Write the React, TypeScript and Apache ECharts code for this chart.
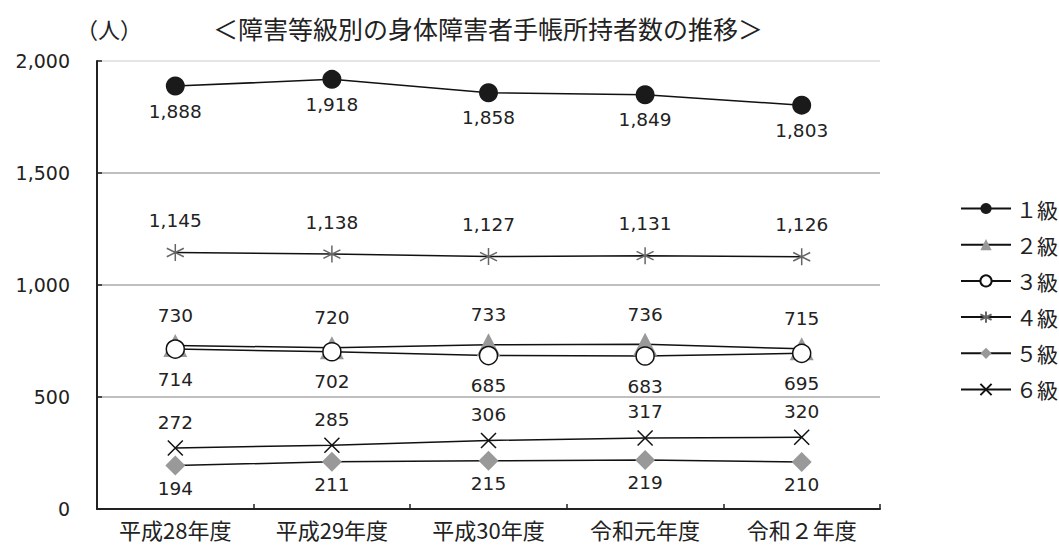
import React, { useEffect, useRef } from "react";
import * as echarts from "echarts";

const categories = ["平成28年度", "平成29年度", "平成30年度", "令和元年度", "令和２年度"];
const seriesNames = ["１級", "２級", "３級", "４級", "５級", "６級"];
const grade1 = [1888, 1918, 1858, 1849, 1803];
const grade2 = [730, 720, 733, 736, 715];
const grade3 = [714, 702, 685, 683, 695];
const grade4 = [1145, 1138, 1127, 1131, 1126];
const grade5 = [194, 211, 215, 219, 210];
const grade6 = [272, 285, 306, 317, 320];
const yTicks = [0, 500, 1000, 1500, 2000];

const NUM_FONT = "'DejaVu Sans', sans-serif";
const JP_FONT = "'Noto Sans CJK JP', sans-serif";

const fmt = (v: number) => v.toLocaleString("en-US");

export default function App() {
  const ref = useRef<HTMLDivElement>(null);
  useEffect(() => {
    if (!ref.current) return;
    const chart = echarts.init(ref.current, null, { renderer: "svg" });
    const label = (dy: number) => ({
      show: true,
      position: "inside",
      offset: [0, dy],
      fontFamily: NUM_FONT,
      fontSize: 18.5,
      color: "#222",
      formatter: (p: any) => fmt(p.value),
    });
    const mk = (
      name: string,
      data: number[],
      symbol: string,
      size: number | number[],
      itemStyle: any,
      dy: number
    ) => ({
      name,
      type: "line",
      data,
      symbol,
      symbolSize: size,
      showAllSymbol: true,
      lineStyle: { color: "#111", width: 1.5 },
      itemStyle,
      label: label(dy),
      z: 3,
    });
    const asterisk = "path://M10,0L10,20M1.34,5L18.66,15M1.34,15L18.66,5";
    const cross = "path://M0,0L20,20M20,0L0,20";
    chart.setOption({
      animation: false,
      backgroundColor: "#fff",
      textStyle: { fontFamily: JP_FONT },
      grid: { left: 97, right: 179, top: 61, bottom: 39, containLabel: false },
      graphic: [
        {
          type: "text",
          left: 76,
          top: 17,
          style: { text: "（人）", font: `22px ${JP_FONT}`, fill: "#222" },
        },
        {
          type: "text",
          left: 213,
          top: 15,
          style: {
            text: "＜障害等級別の身体障害者手帳所持者数の推移＞",
            font: `25px ${JP_FONT}`,
            fill: "#222",
          },
        },
      ],
      legend: {
        orient: "vertical",
        left: 955,
        top: 193,
        itemWidth: 50,
        itemHeight: 14,
        itemGap: 15.2,
        textStyle: { fontFamily: JP_FONT, fontSize: 21, color: "#222", lineHeight: 20 },
        data: seriesNames,
      },
      xAxis: {
        type: "category",
        data: categories,
        boundaryGap: true,
        axisLine: { lineStyle: { color: "#222", width: 2 } },
        axisTick: { show: true, inside: true, length: 5, lineStyle: { color: "#222", width: 1.5 } },
        axisLabel: { fontFamily: JP_FONT, fontSize: 22, color: "#222", margin: 9 },
      },
      yAxis: {
        type: "value",
        min: yTicks[0],
        max: yTicks[yTicks.length - 1],
        interval: 500,
        axisLine: { show: true, lineStyle: { color: "#222", width: 2 } },
        axisTick: { show: true, inside: true, length: 5, lineStyle: { color: "#222", width: 1.5 } },
        axisLabel: {
          fontFamily: NUM_FONT,
          fontSize: 19,
          color: "#222",
          margin: 27,
          formatter: (v: number) => fmt(v),
        },
        splitLine: {
          show: true,
          lineStyle: { color: ["#aaa", "#aaa", "#aaa", "#aaa", "#ddd"], width: 1.5 },
        },
      },
      series: [
        mk(seriesNames[0], grade1, "circle", 19, { color: "#1a1a1a" }, 25),
        mk(seriesNames[1], grade2, "triangle", [24, 23], { color: "#999" }, -30),
        mk(seriesNames[2], grade3, "circle", 18, { color: "#fff", borderColor: "#111", borderWidth: 1.5 }, 30),
        mk(seriesNames[3], grade4, asterisk, 17, { color: "#666", borderColor: "#666", borderWidth: 1.5 }, -32),
        mk(seriesNames[4], grade5, "diamond", 20, { color: "#999" }, 23),
        mk(seriesNames[5], grade6, cross, 15, { color: "#111", borderColor: "#111", borderWidth: 1.5 }, -26),
      ],
    });
    return () => chart.dispose();
  }, []);
  return <div ref={ref} style={{ width: 1059, height: 548, position: "absolute", left: 0, top: 0 }} />;
}
